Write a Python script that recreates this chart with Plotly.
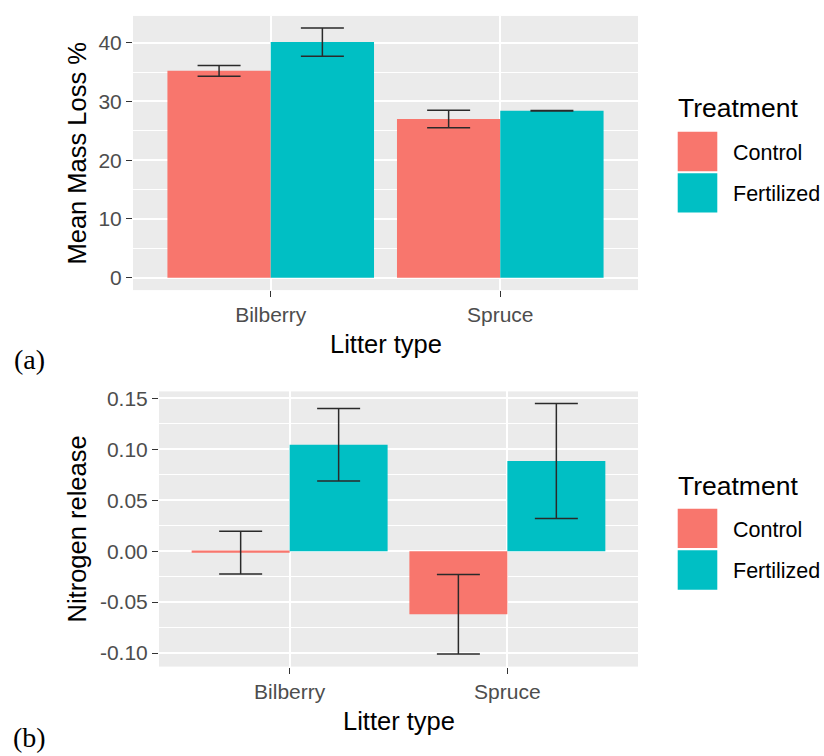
import plotly.graph_objects as go

# ---------------- data ----------------
litter = ["Bilberry", "Spruce"]
treatments = ["Control", "Fertilized"]

mass_loss_control = [35.2, 27.0]
mass_loss_control_err = [0.9, 1.5]
mass_loss_fertilized = [40.1, 28.4]
mass_loss_fertilized_err = [2.4, 0.05]

n_release_control = [-0.0015, -0.062]
n_release_control_err = [0.021, 0.039]
n_release_fertilized = [0.1045, 0.0885]
n_release_fertilized_err = [0.0355, 0.0565]

mass_tickvals = [0, 10, 20, 30, 40]
mass_ticktext = ["0", "10", "20", "30", "40"]
n_tickvals = [-0.10, -0.05, 0.0, 0.05, 0.10, 0.15]
n_ticktext = ["-0.10", "-0.05", "0.00", "0.05", "0.10", "0.15"]

# ---------------- style ----------------
COLORS = {"Control": "#F8766D", "Fertilized": "#00BFC4"}
W, H = 824, 756
FONT = "Liberation Sans, Arial, sans-serif"
TICK_SIZE = 21
TITLE_SIZE = 25.5


def px_x(x):
    return x / W


def px_y(y):
    return 1 - y / H


fig = go.Figure()

panels = [
    ("x", "y", [mass_loss_control, mass_loss_fertilized],
     [mass_loss_control_err, mass_loss_fertilized_err]),
    ("x2", "y2", [n_release_control, n_release_fertilized],
     [n_release_control_err, n_release_fertilized_err]),
]
for xa, ya, vals, errs in panels:
    for t, v, e in zip(treatments, vals, errs):
        fig.add_trace(go.Bar(
            x=litter, y=v, name=t, xaxis=xa, yaxis=ya,
            marker=dict(color=COLORS[t], line=dict(width=0)),
            error_y=dict(type="data", array=e, visible=True,
                         color="#2a2a2a", thickness=1.5, width=21.5),
            showlegend=False,
        ))

axis_common = dict(
    showgrid=True, gridcolor="white", gridwidth=2,
    zeroline=False, showline=False,
    ticks="outside", ticklen=6, tickwidth=1.2, tickcolor="#333333",
    tickfont=dict(family=FONT, size=TICK_SIZE, color="#4D4D4D"),
)

fig.update_layout(
    width=W, height=H,
    margin=dict(l=0, r=0, t=0, b=0),
    paper_bgcolor="white", plot_bgcolor="#EBEBEB",
    barmode="group", bargap=0.1, bargroupgap=0,
    showlegend=False,
    xaxis=dict(axis_common, domain=[px_x(133), px_x(638)], anchor="y",
               range=[-0.6, 1.6], type="category"),
    yaxis=dict(axis_common, domain=[px_y(287), px_y(11)], anchor="x",
               range=[-2.12, 44.55], tickmode="array",
               tickvals=mass_tickvals, ticktext=mass_ticktext,
               minor=dict(tickmode="linear", tick0=5, dtick=10, showgrid=True,
                          gridcolor="white", gridwidth=1, ticks="")),
    xaxis2=dict(axis_common, domain=[px_x(159), px_x(638)], anchor="y2",
                range=[-0.6, 1.6], type="category"),
    yaxis2=dict(axis_common, domain=[px_y(666), px_y(389)], anchor="x2",
                range=[-0.1133, 0.1568], tickmode="array",
                tickvals=n_tickvals, ticktext=n_ticktext,
                minor=dict(tickmode="linear", tick0=0.025, dtick=0.05,
                           showgrid=True, gridcolor="white", gridwidth=1,
                           ticks="")),
)

annotations = []
shapes = []


def text(x, y, s, size, angle=0, xanchor="center", family=FONT, color="black"):
    annotations.append(dict(
        x=px_x(x), y=px_y(y), xref="paper", yref="paper", text=s,
        showarrow=False, textangle=angle, xanchor=xanchor, yanchor="middle",
        font=dict(family=family, size=size, color=color)))


# axis titles
text(77, 149.5, "Mean Mass Loss %", TITLE_SIZE, angle=-90)
text(385.5, 341, "Litter type", TITLE_SIZE)
text(77, 528, "Nitrogen release", TITLE_SIZE, angle=-90)
text(398.5, 721, "Litter type", TITLE_SIZE)

# panel labels
text(29, 357, "(a)", 28, family="Liberation Serif, Times New Roman, serif")
text(29, 737, "(b)", 28, family="Liberation Serif, Times New Roman, serif")

# legends (Treatment)
for title_y, key_tops in [(104, [127.7, 169.3]), (484, [507, 549])]:
    text(676, title_y, "Treatment", 26.5, xanchor="left")
    for t, top in zip(treatments, key_tops):
        shapes.append(dict(type="rect", xref="paper", yref="paper",
                           x0=px_x(677.7), x1=px_x(717.3),
                           y0=px_y(top + 39.7), y1=px_y(top),
                           fillcolor=COLORS[t], line=dict(width=0)))
        text(731, top + 21, t, 21.5, xanchor="left")

fig.update_layout(annotations=annotations, shapes=shapes)

fig.write_html("out.html",
               config={"displayModeBar": False},
               post_script="document.body.style.margin='0';"
                           "document.body.style.overflow='hidden';")
